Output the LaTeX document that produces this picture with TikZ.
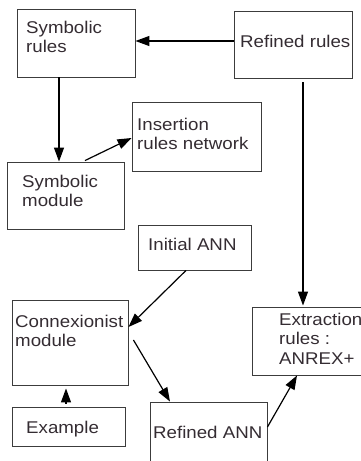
\documentclass[tikz,border=0pt]{standalone}
\usepackage{fontspec}
\setmainfont{Liberation Sans}[FakeStretch=1.1]
\usetikzlibrary{arrows.meta}
\definecolor{txt}{RGB}{52,44,50}
\definecolor{edge}{RGB}{60,60,60}
\begin{document}
\begin{tikzpicture}[x=1pt,y=-1pt,
  box/.style={draw=edge,line width=0.9pt,minimum width=#1,inner sep=0pt,rectangle},
  lbl/.style={anchor=base west,inner sep=0pt,text=txt,font=\fontsize{17}{19.5}\selectfont},
  arr/.style={draw=black,line width=1.2pt,-{Triangle[length=14pt,width=10pt]}}]
\useasboundingbox (0,0) rectangle (361,461);
\clip (0,0) rectangle (361,461);
% boxes
\node[box=118pt,minimum height=68pt] (sr) at (76,43) {};
\node[box=118pt,minimum height=67pt] (rr) at (293,44.5) {};
\node[box=129pt,minimum height=69pt] (ins) at (196.5,136.5) {};
\node[box=117pt,minimum height=67pt] (sm) at (65.5,195.5) {};
\node[box=113pt,minimum height=45pt] (ia) at (194.5,247.5) {};
\node[box=116pt,minimum height=85pt] (cm) at (70,342.5) {};
\node[box=118pt,minimum height=68pt] (ex) at (311,341) {};
\node[box=113pt,minimum height=39pt] (eg) at (68.5,426.5) {};
\node[box=117pt,minimum height=68pt] (ran) at (208.5,436) {};
% labels
\node[lbl] (tsr) at (26,33) {\begin{tabular}[t]{@{}l@{}}Symbolic\\rules\end{tabular}};
\node[lbl] (trr) at (240,47) {Refined rules};
\node[lbl] (tins) at (137,130) {\begin{tabular}[t]{@{}l@{}}Insertion\\rules network\end{tabular}};
\node[lbl] (tsm) at (22,187) {\begin{tabular}[t]{@{}l@{}}Symbolic\\module\end{tabular}};
\node[lbl] (tia) at (148,250) {Initial ANN};
\node[lbl] (tcm) at (15,327) {\begin{tabular}[t]{@{}l@{}}Connexionist\\module\end{tabular}};
\node[lbl] (tex) at (279,325) {\begin{tabular}[t]{@{}l@{}}Extraction\\rules :\\ANREX+\end{tabular}};
\node[lbl] (teg) at (26,433) {Example};
\node[lbl] (tran) at (153,438) {Refined ANN};
% connectors
\draw[arr] ([yshift=3.5pt]rr.west) -- ([yshift=2pt]sr.east);
\draw[arr] ([xshift=-17pt]sr.south) -- ([xshift=-6.5pt]sm.north);
\draw[arr] ([xshift=19.5pt,yshift=1pt]sm.north) -- ([yshift=-1.5pt]ins.west);
\draw[arr] ([xshift=-8.5pt]ia.south) -- ([yshift=15.5pt]cm.east);
\draw[arr] ([xshift=10pt,yshift=-4pt]rr.south) -- ([xshift=-8pt,yshift=1pt]ex.north);
\draw[arr] ([xshift=5pt,yshift=2.5pt]cm.east) -- ([xshift=-38.5pt]ran.north);
\draw[arr] ([xshift=-2.5pt,yshift=3pt]eg.north) -- ([xshift=-4pt,yshift=-3pt]cm.south);
\draw[arr] ([yshift=9pt]ran.east) -- ([xshift=-14pt]ex.south);
\end{tikzpicture}
\end{document}
